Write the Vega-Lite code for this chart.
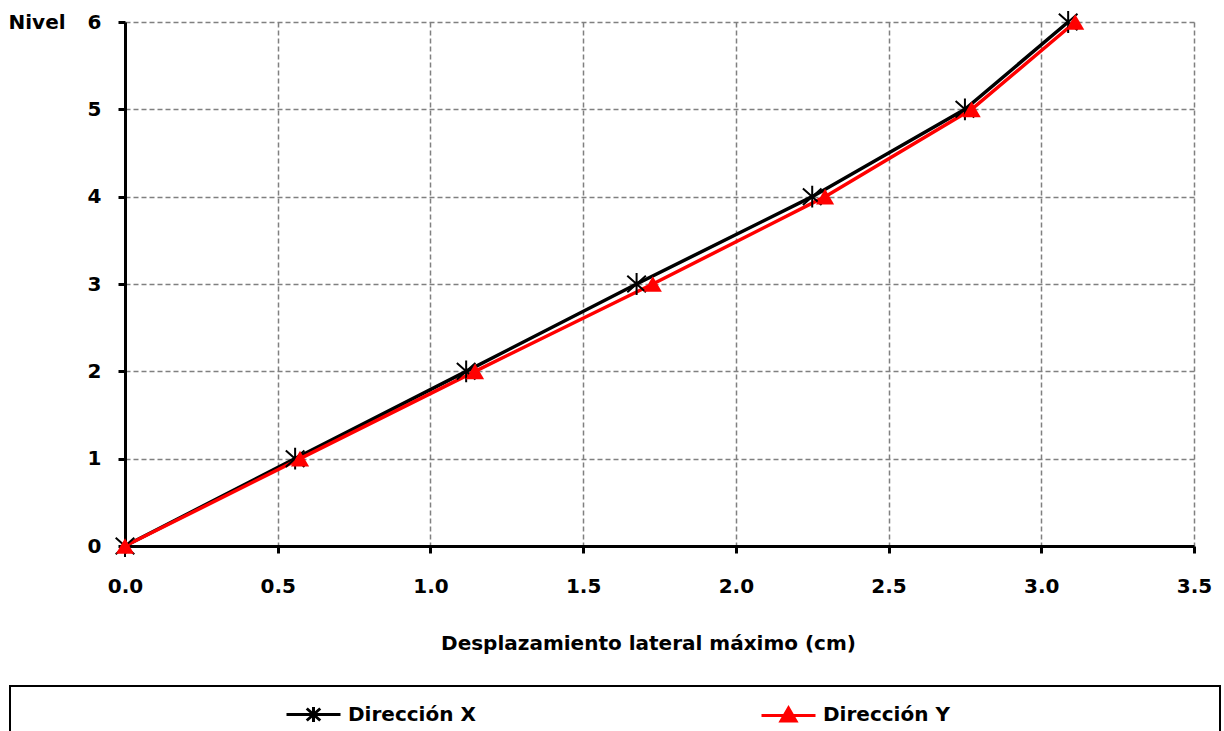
{
  "$schema": "https://vega.github.io/schema/vega-lite/v6.json",
  "width": 1069,
  "height": 524,
  "autosize": {"type": "none"},
  "padding": {"left": 125, "top": 22, "right": 30, "bottom": 185},
  "background": "white",
  "config": {
    "view": {"stroke": null},
    "font": "DejaVu Sans",
    "axis": {
      "labelFont": "DejaVu Sans",
      "labelFontSize": 20,
      "labelFontWeight": "bold",
      "labelColor": "black",
      "titleFont": "DejaVu Sans",
      "titleFontSize": 20,
      "titleFontWeight": "bold",
      "titleColor": "black",
      "domainColor": "black",
      "domainWidth": 3,
      "tickColor": "black",
      "tickWidth": 3,
      "tickSize": 7,
      "gridColor": "#808080",
      "gridDash": [5, 3],
      "gridWidth": 1.5,
      "labelFlush": false,
      "labelOverlap": false
    }
  },
  "data": {
    "values": [
      {"serie": "Dirección X", "d": 0, "nivel": 0},
      {"serie": "Dirección X", "d": 0.557, "nivel": 1},
      {"serie": "Dirección X", "d": 1.117, "nivel": 2},
      {"serie": "Dirección X", "d": 1.675, "nivel": 3},
      {"serie": "Dirección X", "d": 2.25, "nivel": 4},
      {"serie": "Dirección X", "d": 2.75, "nivel": 5},
      {"serie": "Dirección X", "d": 3.088, "nivel": 6},
      {"serie": "Dirección Y", "d": 0, "nivel": 0},
      {"serie": "Dirección Y", "d": 0.573, "nivel": 1},
      {"serie": "Dirección Y", "d": 1.146, "nivel": 2},
      {"serie": "Dirección Y", "d": 1.728, "nivel": 3},
      {"serie": "Dirección Y", "d": 2.292, "nivel": 4},
      {"serie": "Dirección Y", "d": 2.772, "nivel": 5},
      {"serie": "Dirección Y", "d": 3.111, "nivel": 6}
    ]
  },
  "encoding": {
    "x": {
      "field": "d",
      "type": "quantitative",
      "scale": {"domain": [0, 3.5], "nice": false, "zero": false},
      "axis": {
        "title": "Desplazamiento lateral máximo (cm)",
        "values": [0, 0.5, 1, 1.5, 2, 2.5, 3, 3.5],
        "format": ".1f",
        "labelPadding": 23,
        "titlePadding": 37,
        "titleX": 523,
        "titleAlign": "center",
        "titleAnchor": "start"
      }
    },
    "y": {
      "field": "nivel",
      "type": "quantitative",
      "scale": {"domain": [0, 6], "nice": false},
      "axis": {
        "title": "Nivel",
        "values": [0, 1, 2, 3, 4, 5, 6],
        "format": "d",
        "labelPadding": 17,
        "titleAngle": 0,
        "titleAlign": "left",
        "titleBaseline": "middle",
        "titleX": -117,
        "titleY": 0
      }
    }
  },
  "layer": [
    {
      "mark": {"type": "line", "strokeWidth": 3.5},
      "encoding": {
        "color": {
          "field": "serie",
          "type": "nominal",
          "scale": {"domain": ["Dirección X", "Dirección Y"], "range": ["#000000", "#ff0000"]},
          "legend": {
            "orient": "none",
            "legendX": -115,
            "legendY": 664,
            "direction": "horizontal",
            "title": " ",
            "titleOrient": "right",
            "titlePadding": 258,
            "titleFontSize": 20,
            "padding": 12,
            "symbolSize": 900,
            "symbolOffset": 275,
            "labelOffset": 18,
            "columnPadding": 21,
            "labelFont": "DejaVu Sans",
            "labelFontSize": 20,
            "labelFontWeight": "bold",
            "labelColor": "black",
            "labelLimit": 0,
            "strokeColor": "black",
            "symbolStrokeWidth": 3,
            "symbolType": "M-1.8,0L1.8,0",
            "encoding": {
              "symbols": {
                "shape": {"value": {"expr": "datum.value == 'Dirección X' ? 'M-1.8,0L1.8,0M-0.45,-0.4L0.45,0.4M-0.45,0.4L0.45,-0.4M0,-0.5L0,0.5' : 'M-1.8,0L1.8,0M-0.5,0.37L0,-0.5L0.5,0.37Z'"}},
                "fill": {"value": {"expr": "datum.value == 'Dirección X' ? 'transparent' : '#ff0000'"}}
              },
              "legend": {"strokeWidth": {"value": 2}}
            }
          }
        }
      }
    },
    {
      "transform": [{"filter": "datum.serie == 'Dirección X'"}],
      "mark": {
        "type": "point",
        "shape": "M0,-1L0,1M-0.85,-0.75L0.85,0.75M-0.85,0.75L0.85,-0.75",
        "size": 480,
        "filled": false,
        "stroke": "#000000",
        "strokeWidth": 2,
        "opacity": 1
      }
    },
    {
      "transform": [{"filter": "datum.serie == 'Dirección Y'"}],
      "mark": {
        "type": "point",
        "shape": "triangle-up",
        "size": 330,
        "filled": true,
        "fill": "#ff0000",
        "opacity": 1
      }
    }
  ]
}
